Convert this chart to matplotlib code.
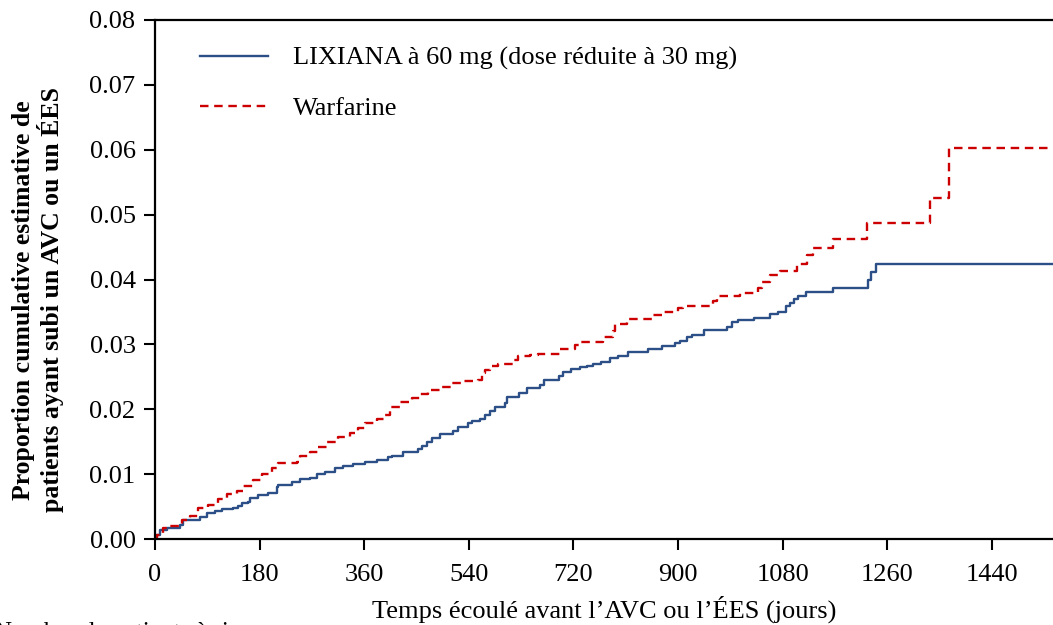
import matplotlib
matplotlib.use("Agg")
import matplotlib.pyplot as plt
import numpy as np

plt.rcParams['font.family'] = ['Liberation Serif', 'DejaVu Serif']

# Data (days, cumulative proportion)
lix_days = [0, 2, 9, 21, 43, 48, 77, 89, 103, 115, 134, 143, 150, 160, 163, 177, 194,
            210, 212, 236, 250, 267, 279, 293, 310, 324, 341, 361, 382, 401, 408, 427,
            453, 459, 468, 477, 490, 513, 521, 539, 545, 559, 568, 576, 585, 602, 606,
            626, 640, 663, 669, 695, 702, 716, 731, 743, 754, 767, 783, 797, 814, 848,
            872, 895, 903, 915, 924, 945, 984, 993, 1003, 1031, 1058, 1072, 1086, 1093,
            1100, 1106, 1120, 1167, 1227, 1232, 1241, 1545]
lix_vals = [0, 0.0006, 0.0014, 0.0017, 0.0022, 0.0030, 0.0034, 0.0040, 0.0043, 0.0046,
            0.0048, 0.0051, 0.0055, 0.0057, 0.0063, 0.0068, 0.0071, 0.0080, 0.0083,
            0.0088, 0.0092, 0.0094, 0.0100, 0.0103, 0.0109, 0.0112, 0.0116, 0.0119,
            0.0122, 0.0126, 0.0128, 0.0134, 0.0139, 0.0143, 0.0150, 0.0156, 0.0162,
            0.0166, 0.0173, 0.0179, 0.0182, 0.0185, 0.0191, 0.0197, 0.0203, 0.0210,
            0.0219, 0.0225, 0.0233, 0.0237, 0.0245, 0.0251, 0.0257, 0.0262, 0.0265,
            0.0267, 0.0270, 0.0273, 0.0279, 0.0282, 0.0288, 0.0293, 0.0297, 0.0302,
            0.0305, 0.0311, 0.0314, 0.0322, 0.0327, 0.0334, 0.0337, 0.0341, 0.0347,
            0.0350, 0.0359, 0.0364, 0.0370, 0.0374, 0.0381, 0.0387, 0.0399, 0.0411,
            0.0424, 0.0424]

war_days = [0, 3, 14, 26, 46, 60, 74, 91, 108, 124, 141, 151, 169, 184, 201, 212, 244,
            250, 267, 280, 296, 315, 336, 349, 361, 382, 396, 404, 422, 442, 456, 470,
            490, 511, 530, 556, 563, 568, 576, 590, 616, 625, 645, 659, 697, 723, 731,
            771, 788, 792, 812, 855, 872, 900, 909, 960, 967, 1007, 1038, 1045, 1058,
            1076, 1105, 1122, 1132, 1167, 1225, 1334, 1366, 1545]
war_vals = [0, 0.0006, 0.0017, 0.0020, 0.0030, 0.0036, 0.0048, 0.0052, 0.0062, 0.0069,
            0.0074, 0.0082, 0.0091, 0.0100, 0.0109, 0.0117, 0.0119, 0.0128, 0.0134,
            0.0142, 0.0150, 0.0157, 0.0163, 0.0171, 0.0179, 0.0185, 0.0191, 0.0203,
            0.0211, 0.0217, 0.0223, 0.0230, 0.0234, 0.0240, 0.0243, 0.0245, 0.0256,
            0.0260, 0.0267, 0.0270, 0.0276, 0.0282, 0.0284, 0.0285, 0.0293, 0.0299,
            0.0304, 0.0311, 0.0320, 0.0331, 0.0339, 0.0345, 0.0350, 0.0356, 0.0359,
            0.0367, 0.0374, 0.0379, 0.0387, 0.0396, 0.0407, 0.0413, 0.0424, 0.0437,
            0.0448, 0.0462, 0.0487, 0.0526, 0.0603, 0.0603]

x_ticks = [0, 180, 360, 540, 720, 900, 1080, 1260, 1440]
y_ticks = [0.00, 0.01, 0.02, 0.03, 0.04, 0.05, 0.06, 0.07, 0.08]

fig = plt.figure(figsize=(10.53, 6.25), dpi=100)
ax = fig.add_axes([0.1472, 0.1376, 0.8528, 0.8304])

ax.step(lix_days, lix_vals, where='post', color='#2b4f86', lw=1.7,
        label='LIXIANA à 60 mg (dose réduite à 30 mg)')
ax.step(war_days, war_vals, where='post', color='#cc0000', lw=1.7,
        linestyle=(0, (3.6, 2.4)), label='Warfarine')

ax.set_xlim(0, 1545)
ax.set_ylim(0, 0.08)
ax.set_xticks(x_ticks)
ax.set_yticks(y_ticks)
ax.set_yticklabels([f'{v:.2f}' for v in y_ticks])
ax.tick_params(direction='out', length=8, width=1.5, labelsize=19)
ax.tick_params(axis='x', pad=10)
ax.tick_params(axis='y', pad=6)
ax.spines['right'].set_visible(False)
for s in ['left', 'bottom', 'top']:
    ax.spines[s].set_linewidth(1.6)

ax.set_xlabel("Temps écoulé avant l\u2019AVC ou l\u2019ÉES (jours)", fontsize=19, labelpad=7)
fig.text(38 / 1053, 1 - 300 / 625,
         "Proportion cumulative estimative de\npatients ayant subi un AVC ou un ÉES",
         fontsize=18.5, fontweight='bold', rotation=90, ha='center', va='center',
         linespacing=1.08)

ax.legend(loc='upper left', bbox_to_anchor=(0.0233, 0.995), frameon=False, fontsize=19,
          handlelength=2.6, handletextpad=0.95, labelspacing=1.0)

# footer row title, cut off by the bottom edge as in the reference
fig.text(-0.006, -0.03, 'Nombre de patients à risque', fontsize=18, ha='left', va='bottom')

fig.savefig('out.png', dpi=100)
